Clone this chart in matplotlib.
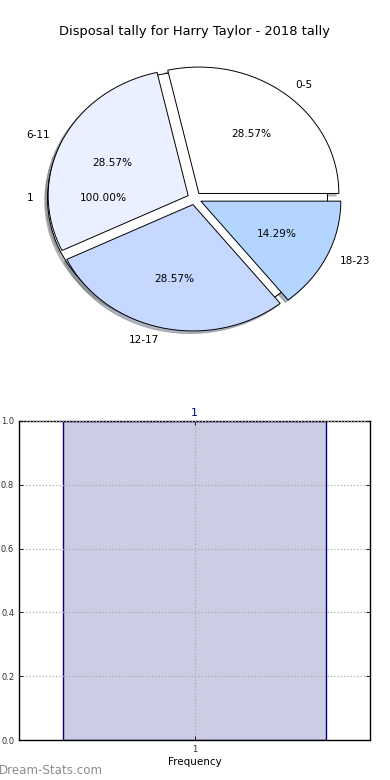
import matplotlib
matplotlib.use("Agg")
import matplotlib.pyplot as plt

# disposal tally buckets for the pie
buckets = ["0-5", "6-11", "12-17", "18-23"]
counts = [2, 2, 2, 1]
pie_colors = ["#ffffff", "#eaf0ff", "#c6d8ff", "#b3d5ff"]

# the extra single-slice pie drawn underneath
total_label = ["1"]
total_value = [1]

# frequency bar
bar_cats = ["1"]
bar_vals = [1]

title = "Disposal tally for Harry Taylor - 2018 tally"

fig = plt.figure(figsize=(3.9, 7.8), dpi=100)

# pie axes, 19.5..369.5 px wide, 40..356 px tall
ax1 = fig.add_axes([19.5 / 390, 1 - 356.4 / 780, 350 / 390, 316 / 780])
wp = dict(edgecolor="black", linewidth=0.7)
shd = dict(ox=-0.0144, oy=-0.0144, shade=0.5)
ax1.pie(total_value, labels=total_label, colors=pie_colors[:1], autopct="%.2f%%",
        explode=[0.05], shadow=shd, wedgeprops=wp, textprops=dict(fontsize=7.6))
ax1.pie(counts, labels=buckets, colors=pie_colors, autopct="%.2f%%",
        explode=[0.05] * len(counts), shadow=shd, wedgeprops=wp,
        textprops=dict(fontsize=7.6))
ax1.set_aspect("auto")
ax1.set_xlim(-1.25, 1.25)
ax1.set_ylim(-1.25, 1.25)
ax1.set_title(title, fontsize=9.4, pad=4)

# frequency bar chart
ax2 = fig.add_axes([19 / 390, 1 - 740 / 780, 351 / 390, 319 / 780])
xpos = list(range(1, len(bar_cats) + 1))
bars = ax2.bar(xpos, bar_vals, width=0.8, color=(0, 0, 0.5, 0.2),
               edgecolor="navy", linewidth=1.0, zorder=1)
ax2.bar_label(bars, labels=bar_cats, color="navy", fontsize=8, padding=2)
ax2.set_xlim(0.468, 1.532)
ax2.set_ylim(0, 1.0)
ax2.set_xticks(xpos)
ax2.set_xticklabels(bar_cats)
ax2.set_yticks([0.0, 0.2, 0.4, 0.6, 0.8, 1.0])
ax2.yaxis.set_major_formatter(matplotlib.ticker.FormatStrFormatter("%.1f"))
ax2.tick_params(direction="in", length=3, labelsize=6, top=True, right=True,
                width=0.6, labelcolor="#333333")
ax2.grid(True, linestyle=":", color="#aaaaaa", linewidth=0.9, zorder=2)
ax2.set_axisbelow(False)
for s in ax2.spines.values():
    s.set_linewidth(1.0)
ax2.set_xlabel("Frequency", fontsize=7.5, labelpad=2)

fig.text(-0.003, 0.004, "Dream-Stats.com", fontsize=8.6, color="#8c8c8c",
         ha="left", va="bottom")

fig.savefig("out.png", dpi=100)
